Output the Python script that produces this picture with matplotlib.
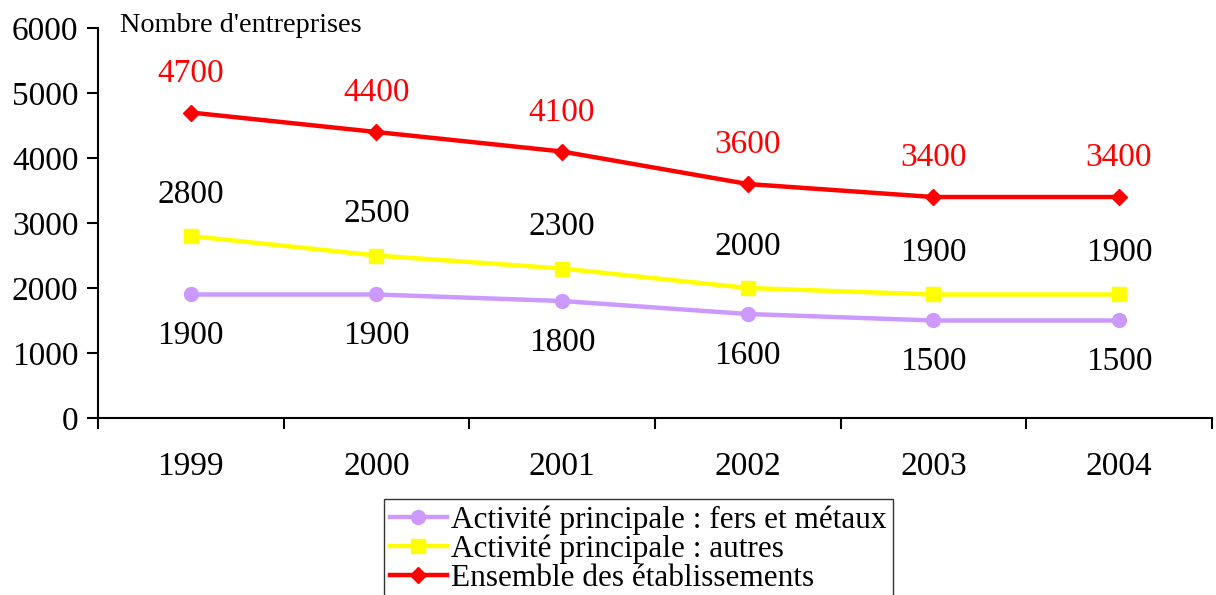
import matplotlib
matplotlib.use('Agg')
import matplotlib.pyplot as plt

years = ['1999', '2000', '2001', '2002', '2003', '2004']
fers = [1900, 1900, 1800, 1600, 1500, 1500]
autres = [2800, 2500, 2300, 2000, 1900, 1900]
ensemble = [4700, 4400, 4100, 3600, 3400, 3400]

plt.rcParams['font.family'] = ['Liberation Serif', 'DejaVu Serif']

fig = plt.figure(figsize=(12.16, 5.95), dpi=100)
ax = fig.add_axes([0.0806, 0.2975, 0.916, 0.6554])

x = list(range(len(years)))
ax.plot(x, fers, color='#CC99FF', lw=3.2, marker='o', ms=10,
        label='Activité principale : fers et métaux')
ax.plot(x, autres, color='#FFFF00', lw=3.2, marker='s', ms=10,
        label='Activité principale : autres')
ax.plot(x, ensemble, color='#FF0000', lw=3.2, marker='D', ms=8,
        label='Ensemble des établissements')

for i in x:
    ax.annotate(str(ensemble[i]), (i, ensemble[i]), xytext=(0, 28),
                textcoords='offset points', ha='center', va='center',
                fontsize=24, color='#FF0000')
    ax.annotate(str(autres[i]), (i, autres[i]), xytext=(0, 30),
                textcoords='offset points', ha='center', va='center',
                fontsize=24, color='black')
    ax.annotate(str(fers[i]), (i, fers[i]), xytext=(0, -30),
                textcoords='offset points', ha='center', va='center',
                fontsize=24, color='black')

ax.set_xlim(-0.5, 5.5)
ax.set_ylim(0, 6000)
ax.set_yticks(range(0, 6001, 1000))
ax.set_xticks([i - 0.5 for i in range(7)])
ax.set_xticklabels([])
ax.set_xticks(x, minor=True)
ax.set_xticklabels(years, minor=True)
ax.tick_params(axis='x', which='minor', length=0, pad=24, labelsize=24)
ax.tick_params(axis='x', which='major', direction='out', length=8, width=1.5)
ax.tick_params(axis='y', direction='out', length=8, width=1.5, labelsize=24, pad=6)

ax.spines['top'].set_visible(False)
ax.spines['right'].set_visible(False)
ax.spines['left'].set_linewidth(1.5)
ax.spines['bottom'].set_linewidth(1.5)

fig.text(120 / 1216, 1 - 26 / 595, "Nombre d'entreprises", fontsize=20.3,
         va='center', ha='left')

leg = fig.legend(loc='upper left', bbox_to_anchor=(384 / 1216, 1 - 499 / 595),
                 fontsize=22.5, frameon=True, fancybox=False, edgecolor='black',
                 handlelength=1.8, handletextpad=0.15, labelspacing=0.0,
                 borderpad=0.2, borderaxespad=0)
leg.get_frame().set_linewidth(1)

fig.savefig('out.png', dpi=100)
